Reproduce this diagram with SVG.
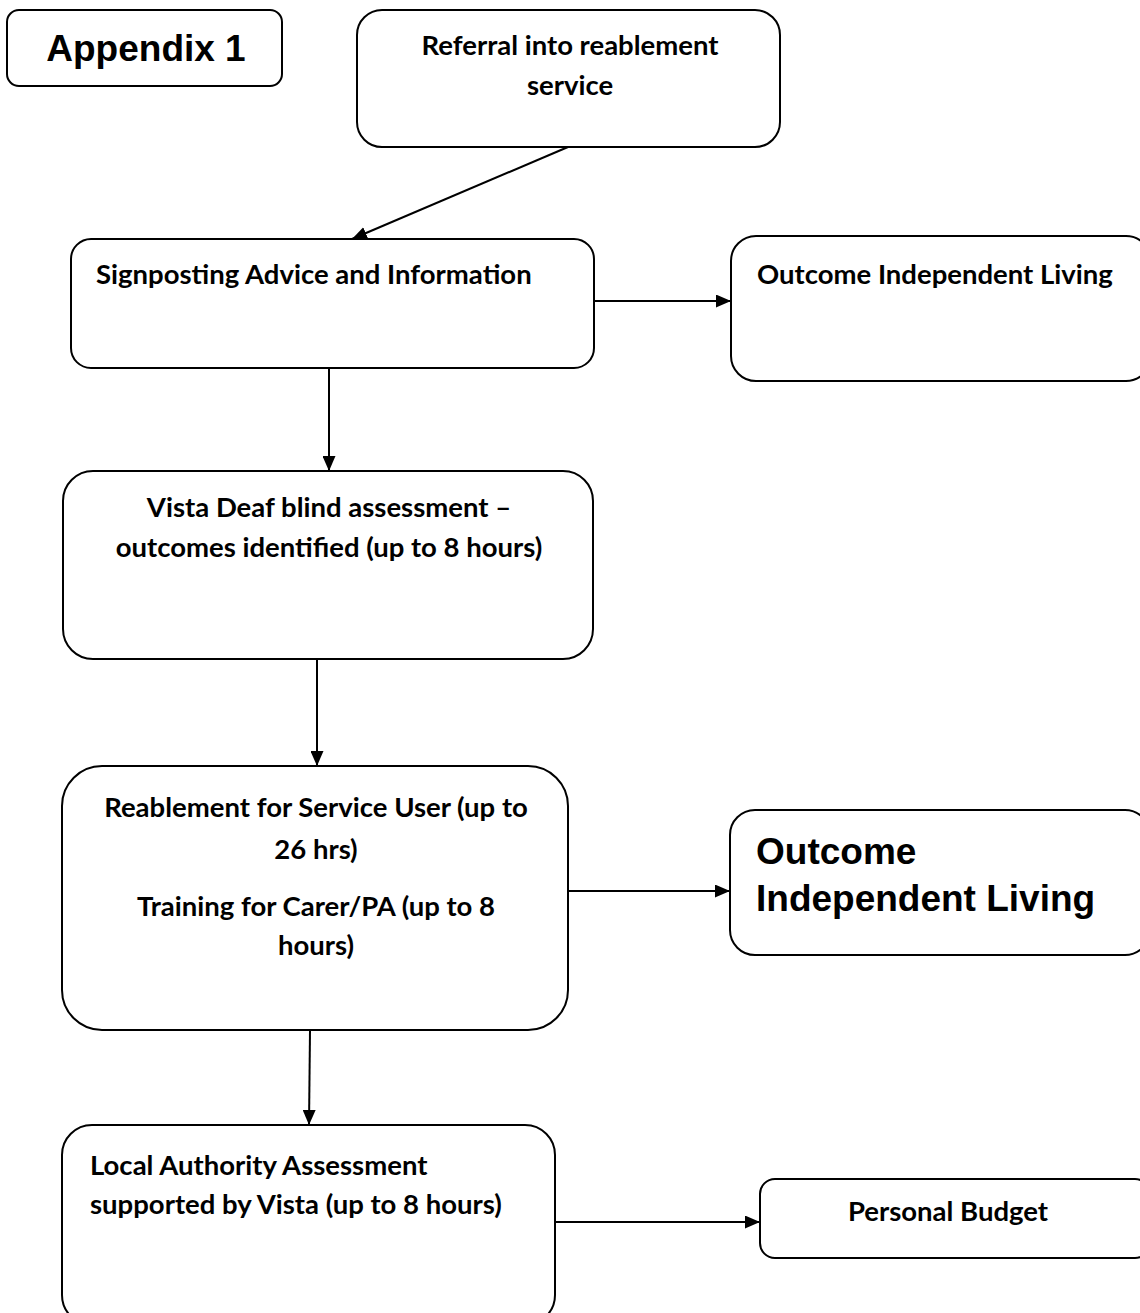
<svg xmlns="http://www.w3.org/2000/svg" width="1140" height="1313" viewBox="0 0 1140 1313">
<style>
.box{fill:#fff;stroke:#000;stroke-width:2}
.t{font-family:Lato,"Open Sans","Liberation Sans",sans-serif;font-weight:bold;font-size:27.5px;fill:#000}
.a{font-family:"Liberation Sans",Arial,sans-serif;font-weight:bold;font-size:37px;fill:#000}
.c{text-anchor:middle}
.ln{stroke:#000;stroke-width:2;fill:none}
</style>
<defs>
<marker id="ah" markerWidth="15" markerHeight="13" refX="15" refY="6.5" orient="auto" markerUnits="userSpaceOnUse" viewBox="0 0 15 13">
<path d="M0,0 L15,6.5 L0,13 z" fill="#000"/>
</marker>
</defs>
<rect width="1140" height="1313" fill="#fff"/>
<g id="appendix">
<rect class="box" x="7" y="10" width="275" height="76" rx="12"/>
<text class="a c" x="146" y="61">Appendix 1</text>
</g>
<g id="referral">
<rect class="box" x="357" y="10" width="423" height="137" rx="25"/>
<text class="t c" x="570" y="55">Referral into reablement</text>
<text class="t c" x="570" y="95">service</text>
</g>
<g id="signposting">
<rect class="box" x="71" y="239" width="523" height="129" rx="20"/>
<text class="t" x="96" y="284">Signposting Advice and Information</text>
</g>
<g id="outcome1">
<rect class="box" x="731" y="236" width="420" height="145" rx="25"/>
<text class="t" x="757" y="284">Outcome Independent Living</text>
</g>
<g id="vista">
<rect class="box" x="63" y="471" width="530" height="188" rx="30"/>
<text class="t c" x="329" y="517">Vista Deaf blind assessment –</text>
<text class="t c" x="329" y="557">outcomes identified (up to 8 hours)</text>
</g>
<g id="reablement">
<rect class="box" x="62" y="766" width="506" height="264" rx="40"/>
<text class="t c" x="316" y="817">Reablement for Service User (up to</text>
<text class="t c" x="316" y="859">26 hrs)</text>
<text class="t c" x="316" y="916">Training for Carer/PA (up to 8</text>
<text class="t c" x="316" y="955">hours)</text>
</g>
<g id="outcome2">
<rect class="box" x="730" y="810" width="420" height="145" rx="25"/>
<text class="a" x="756" y="864">Outcome</text>
<text class="a" x="756" y="911">Independent Living</text>
</g>
<g id="local">
<rect class="box" x="62" y="1125" width="493" height="200" rx="30"/>
<text class="t" x="90" y="1175">Local Authority Assessment</text>
<text class="t" x="90" y="1214">supported by Vista (up to 8 hours)</text>
</g>
<g id="budget">
<rect class="box" x="760" y="1179" width="390" height="79" rx="15"/>
<text class="t c" x="948" y="1221">Personal Budget</text>
</g>
<g id="connectors">
<line class="ln" x1="568" y1="147" x2="352" y2="239" marker-end="url(#ah)"/>
<line class="ln" x1="594" y1="301" x2="731" y2="301" marker-end="url(#ah)"/>
<line class="ln" x1="329" y1="368" x2="329" y2="471" marker-end="url(#ah)"/>
<line class="ln" x1="317" y1="659" x2="317" y2="766" marker-end="url(#ah)"/>
<line class="ln" x1="568" y1="891" x2="730" y2="891" marker-end="url(#ah)"/>
<line class="ln" x1="310" y1="1031" x2="309" y2="1125" marker-end="url(#ah)"/>
<line class="ln" x1="555" y1="1222" x2="760" y2="1222" marker-end="url(#ah)"/>
</g>
</svg>
